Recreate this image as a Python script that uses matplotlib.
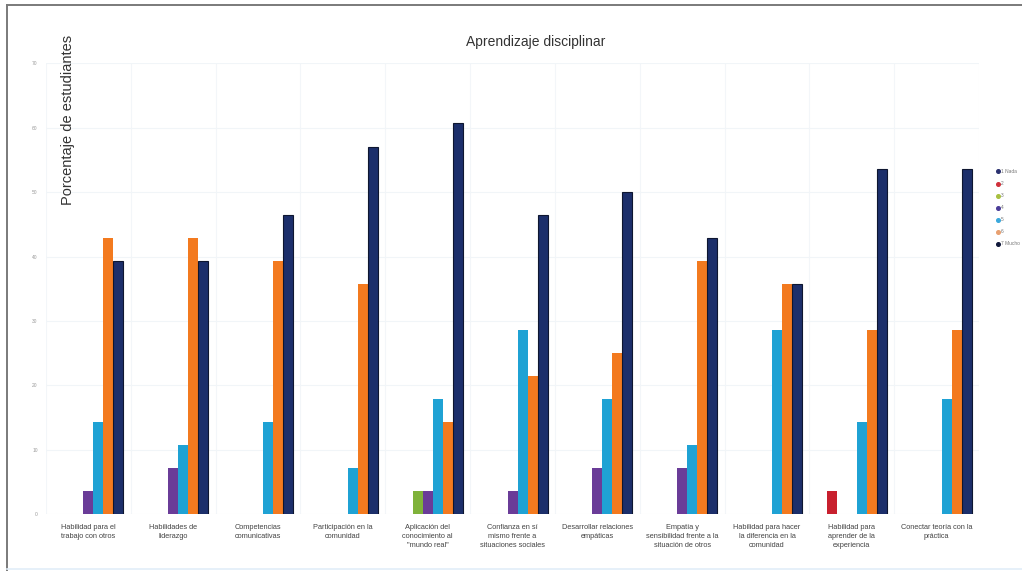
import numpy as np
import matplotlib
matplotlib.use('Agg')
import matplotlib.pyplot as plt
from matplotlib.lines import Line2D

plt.rcParams['font.family'] = ['Liberation Sans', 'DejaVu Sans']

categories = [
    'Habilidad para el\ntrabajo con otros',
    'Habilidades de\nliderazgo',
    'Competencias\ncomunicativas',
    'Participación en la\ncomunidad',
    'Aplicación del\nconocimiento al\n"mundo real"',
    'Confianza en sí\nmismo frente a\nsituaciones sociales',
    'Desarrollar relaciones\nempáticas',
    'Empatía y\nsensibilidad frente a la\nsituación de otros',
    'Habilidad para hacer\nla diferencia en la\ncomunidad',
    'Habilidad para\naprender de la\nexperiencia',
    'Conectar teoría con la\npráctica',
]

series_names = ['1 Nada', '2', '3', '4', '5', '6', '7 Mucho']

s1 = [0, 0, 0, 0, 0, 0, 0, 0, 0, 0, 0]
s2 = [0, 0, 0, 0, 0, 0, 0, 0, 0, 3.6, 0]
s3 = [0, 0, 0, 0, 3.6, 0, 0, 0, 0, 0, 0]
s4 = [3.6, 7.1, 0, 0, 3.6, 3.6, 7.1, 7.1, 0, 0, 0]
s5 = [14.3, 10.7, 14.3, 7.1, 17.9, 28.6, 17.9, 10.7, 28.6, 14.3, 17.9]
s6 = [42.9, 42.9, 39.3, 35.7, 14.3, 21.4, 25.0, 39.3, 35.7, 28.6, 28.6]
s7 = [39.3, 39.3, 46.4, 57.1, 60.7, 46.4, 50.0, 42.9, 35.7, 53.6, 53.6]

y_ticks = [0, 10, 20, 30, 40, 50, 60, 70]

colors = ['#2b3170', '#c8202e', '#7fb23a', '#6a3c98', '#1fa2d4', '#f37a1f', '#1c2f6b']
legend_colors = ['#2b3170', '#d0303a', '#a8c040', '#4a3c98', '#3aa8dc', '#e8a070', '#10183a']


def main():
    fig = plt.figure(figsize=(10.22, 5.71), dpi=100)
    ax = fig.add_axes([0.045, 0.0998, 0.913, 0.789])

    series = [s1, s2, s3, s4, s5, s6, s7]
    x = np.arange(len(categories))
    width = 10 / 84.8
    for i, vals in enumerate(series):
        offs = (i - 3) * width
        edge = '#0e1630' if i == 6 else 'none'
        ax.bar(x + offs, vals, width, color=colors[i], edgecolor=edge,
               linewidth=0.8, zorder=3)

    ax.set_xlim(-0.5, len(categories) - 0.5)
    ax.set_ylim(0, 70)
    ax.set_yticks(y_ticks)
    ax.set_yticklabels([str(t) for t in y_ticks], fontsize=3.5, color='#9a9a9a')
    ax.set_xticks(x)
    ax.set_xticklabels(categories, fontsize=5.3, color='#444444', linespacing=1.45,
                       va='top')
    ax.tick_params(axis='both', length=0)
    ax.tick_params(axis='y', pad=6)
    ax.tick_params(axis='x', pad=7)
    for sp in ax.spines.values():
        sp.set_visible(False)

    # faint grid lines, like the original export
    ax.grid(axis='y', color='#f1f5f8', linewidth=0.8, zorder=0)
    for b in np.arange(-0.5, len(categories), 1.0):
        ax.axvline(b, color='#f3f6f9', linewidth=0.8, zorder=0)

    fig.text(0.524, 0.926, 'Aprendizaje disciplinar', ha='center', va='center',
             fontsize=10, color='#333333')
    fig.text(0.067, 0.79, 'Porcentaje de estudiantes', rotation=90,
             ha='center', va='center', fontsize=10.5, color='#333333')

    handles = [Line2D([0], [0], marker='o', linestyle='', markersize=2.6,
                      markerfacecolor=c, markeredgecolor=c) for c in legend_colors]
    fig.legend(handles, series_names, loc='upper left',
               bbox_to_anchor=(0.972, 0.708), frameon=False, fontsize=3.5,
               labelspacing=1.45, handletextpad=0.1, handlelength=1.0,
               borderpad=0, labelcolor='#777777')

    # outer frame of the picture
    fig.add_artist(Line2D([0.0068, 1.0], [0.9912, 0.9912], color='#7a7a7a',
                          linewidth=1.4, transform=fig.transFigure))
    fig.add_artist(Line2D([0.0068, 0.0068], [0.0, 0.9912], color='#7a7a7a',
                          linewidth=1.4, transform=fig.transFigure))
    fig.add_artist(Line2D([0.0068, 1.0], [0.003, 0.003], color='#e2eef8',
                          linewidth=1.2, transform=fig.transFigure))

    fig.savefig('out.png', dpi=100)
    plt.close(fig)


if __name__ == '__main__':
    main()
